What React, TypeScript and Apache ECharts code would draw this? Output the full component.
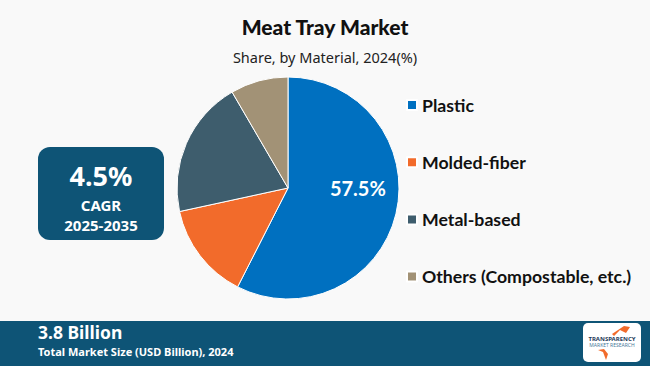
import React, { useEffect, useRef } from "react";
import * as echarts from "echarts";

const categories = ["Plastic", "Molded-fiber", "Metal-based", "Others (Compostable, etc.)"];
const shares = [57.5, 14.1, 20.0, 8.4];
const colors = ["#0070C0", "#F26B2B", "#3E5D6D", "#A29276"];
const titleText = "Meat Tray Market";
const subtitleText = "Share, by Material, 2024(%)";
const cagrValue = "4.5%";
const cagrLabel = "CAGR";
const cagrPeriod = "2025-2035";
const marketSize = "3.8 Billion";
const marketSizeLabel = "Total Market Size (USD Billion), 2024";

export default function App() {
  const ref = useRef<HTMLDivElement>(null);
  useEffect(() => {
    if (!ref.current) return;
    const chart = echarts.init(ref.current, null, { renderer: "svg" });
    const data = categories.map((name, i) => ({
      name,
      value: shares[i],
      itemStyle: { color: colors[i] },
      label: i === 0
        ? { show: true, position: "inside", formatter: "{c}%", color: "#fff", fontSize: 20, fontFamily: "Lato", fontWeight: "bold", offset: [13, -14] }
        : { show: false },
    }));
    chart.setOption({
      animation: false,
      backgroundColor: "#f9f9f9",
      title: [
        { text: titleText, left: "center", top: 11, textStyle: { fontFamily: "Lato", fontWeight: 900, fontSize: 21, color: "#111" } },
        { text: subtitleText, left: "center", top: 44, textStyle: { fontFamily: "Noto Sans", fontWeight: "normal", fontSize: 14.5, color: "#222" } },
      ],
      legend: {
        orient: "vertical",
        left: 401,
        top: 90,
        itemWidth: 10,
        itemHeight: 10,
        itemGap: 37.2,
        icon: "rect",
        selectedMode: false,
        textStyle: { fontFamily: "Lato", fontWeight: "bold", fontSize: 17.7, color: "#111", lineHeight: 20, padding: [0, 0, 0, 0] },
        data: categories,
      },
      series: [
        {
          type: "pie",
          center: [288, 188],
          radius: 111,
          startAngle: 90,
          clockwise: true,
          labelLine: { show: false },
          itemStyle: { borderColor: "#ffffff", borderWidth: 1 },
          emphasis: { disabled: true },
          data,
        },
      ],
      graphic: [
        { type: "rect", shape: { x: 38, y: 147, width: 126, height: 93, r: 12 }, style: { fill: "#0E5476" } },
        { type: "text", x: 101, y: 175, style: { text: cagrValue, fill: "#fff", font: "bold 27px 'Noto Sans'", align: "center", verticalAlign: "middle" } },
        { type: "text", x: 101, y: 205, style: { text: cagrLabel, fill: "#fff", font: "bold 15px 'Noto Sans'", align: "center", verticalAlign: "middle" } },
        { type: "text", x: 101, y: 225, style: { text: cagrPeriod, fill: "#fff", font: "bold 15px 'Noto Sans'", align: "center", verticalAlign: "middle" } },
        { type: "rect", shape: { x: 0, y: 321, width: 650, height: 45 }, style: { fill: "#0E5476" } },
        { type: "text", x: 38, y: 332, style: { text: marketSize, fill: "#fff", font: "bold 17.5px 'Noto Sans'", verticalAlign: "middle" } },
        { type: "text", x: 38, y: 351, style: { text: marketSizeLabel, fill: "#fff", font: "bold 11px 'Noto Sans'", verticalAlign: "middle" } },
        { type: "rect", shape: { x: 583, y: 323, width: 58, height: 39, r: 5 }, style: { fill: "#ffffff" } },
        { type: "polygon", shape: { points: [[612, 334], [624, 326], [630, 327], [626, 333], [620, 330], [614, 336]] }, style: { fill: "#F26B2B" } },
        { type: "polygon", shape: { points: [[606, 360], [603, 352], [598, 350], [604, 349], [608, 354]] }, style: { fill: "#F26B2B" } },
        { type: "text", x: 612, y: 339, style: { text: "TRANSPARENCY", fill: "#1F3B5A", font: "bold 6px 'Noto Sans'", align: "center", verticalAlign: "middle" } },
        { type: "text", x: 612, y: 345, style: { text: "MARKET RESEARCH", fill: "#4A7A9A", font: "5px 'Noto Sans'", align: "center", verticalAlign: "middle" } },
      ],
    });
    return () => chart.dispose();
  }, []);
  return <div ref={ref} style={{ position: "fixed", left: 0, top: 0, width: 650, height: 366 }} />;
}
